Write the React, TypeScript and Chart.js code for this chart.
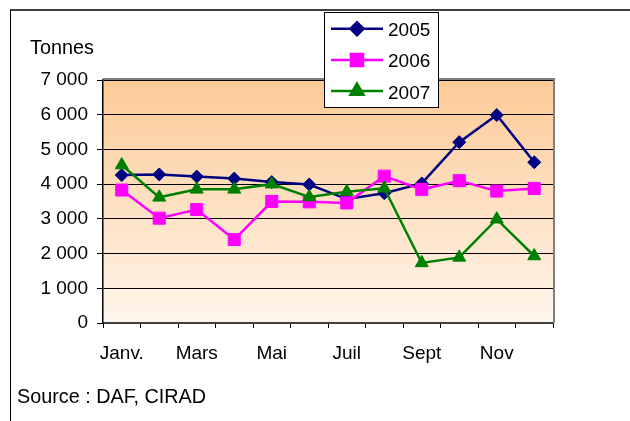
import { useEffect, useRef } from 'react';
import { Chart, registerables } from 'chart.js';
import { drawPoint } from 'chart.js/helpers';

Chart.register(...registerables);

const months = ['Janv.', 'Févr.', 'Mars', 'Avr.', 'Mai', 'Juin', 'Juil', 'Août', 'Sept', 'Oct', 'Nov', 'Déc.'];
const shownMonthEvery = 2;
const series2005 = [4260, 4280, 4220, 4160, 4060, 3990, 3570, 3740, 4020, 5210, 5990, 4630];
const series2006 = [3830, 3020, 3270, 2405, 3500, 3490, 3460, 4230, 3850, 4100, 3800, 3875];
const series2007 = [4550, 3620, 3850, 3850, 4000, 3630, 3780, 3880, 1730, 1890, 2990, 1930];
const seriesNames = ['2005', '2006', '2007'];
const yMin = 0;
const yMax = 7000;
const yStep = 1000;
const unitLabel = 'Tonnes';
const sourceLabel = 'Source : DAF, CIRAD';

const FONT = '"Liberation Sans", Arial, sans-serif';
const FONT_SIZE = 19;
const NOTE_FONT_SIZE = 19.8;

const styles = [
  { color: '#000080', pointStyle: 'rectRot', radius: 6.5 },
  { color: '#FF00FF', pointStyle: 'rect', radius: 8.5 },
  { color: '#008000', pointStyle: 'triangle', radius: 7.5 },
];

function fmt(v: number): string {
  if (v < 1000) return String(v);
  return `${Math.floor(v / 1000)} ${String(v % 1000).padStart(3, '0')}`;
}

const decorPlugin = {
  id: 'decor',
  beforeDraw(chart: any) {
    const { ctx, chartArea } = chart;
    const { left, right, top, bottom } = chartArea;
    ctx.save();
    const g = ctx.createLinearGradient(0, top, 0, bottom);
    g.addColorStop(0, '#FCCA96');
    g.addColorStop(1, '#FFF6EC');
    ctx.fillStyle = g;
    ctx.fillRect(left, top, right - left, bottom - top);
    // outer frame
    ctx.strokeStyle = '#404040';
    ctx.lineWidth = 2;
    ctx.beginPath();
    ctx.moveTo(10, 10);
    ctx.lineTo(640, 10);
    ctx.stroke();
    ctx.strokeStyle = '#000';
    ctx.lineWidth = 1;
    ctx.beginPath();
    ctx.moveTo(10.5, 10);
    ctx.lineTo(10.5, 430);
    ctx.stroke();
    ctx.restore();
  },
  afterDraw(chart: any) {
    const { ctx, chartArea } = chart;
    const { left, right, top, bottom } = chartArea;
    ctx.save();
    // plot border (top & right) in gray
    ctx.strokeStyle = '#808080';
    ctx.lineWidth = 2;
    ctx.beginPath();
    ctx.moveTo(left, top - 1);
    ctx.lineTo(right + 1, top - 1);
    ctx.lineTo(right + 1, bottom);
    ctx.stroke();

    ctx.fillStyle = '#000';
    ctx.font = `${NOTE_FONT_SIZE}px ${FONT}`;
    ctx.textBaseline = 'alphabetic';
    ctx.textAlign = 'left';
    ctx.fillText(unitLabel, 30, 54);
    ctx.fillText(sourceLabel, 17, 403);

    // legend
    ctx.font = `${FONT_SIZE}px ${FONT}`;
    const lx = 324.5, ly = 12.5, lw = 114, lh = 95;
    ctx.fillStyle = '#fff';
    ctx.fillRect(lx, ly, lw, lh);
    ctx.strokeStyle = '#000';
    ctx.lineWidth = 1;
    ctx.strokeRect(lx, ly, lw, lh);
    const rows = [28.7, 60, 91];
    const baselines = [35.5, 67, 98.5];
    chart.data.datasets.forEach((ds: any, i: number) => {
      const y = rows[i];
      const st = styles[i];
      ctx.strokeStyle = st.color;
      ctx.lineWidth = 2.5;
      ctx.beginPath();
      ctx.moveTo(331, y);
      ctx.lineTo(383, y);
      ctx.stroke();
      ctx.fillStyle = st.color;
      ctx.strokeStyle = st.color;
      drawPoint(ctx, { pointStyle: st.pointStyle, rotation: 0, radius: st.radius, borderWidth: 1 } as any, 357, y);
      ctx.fillStyle = '#000';
      ctx.fillText(ds.label, 388, baselines[i]);
    });
    ctx.restore();
  },
};

export default function App() {
  const ref = useRef<HTMLCanvasElement>(null);
  useEffect(() => {
    if (!ref.current) return;
    const allSeries = [series2005, series2006, series2007];
    const chart = new Chart(ref.current, {
      type: 'line',
      data: {
        labels: months,
        datasets: allSeries.map((data, i) => ({
          label: seriesNames[i],
          data,
          borderColor: styles[i].color,
          backgroundColor: styles[i].color,
          pointBackgroundColor: styles[i].color,
          pointBorderColor: styles[i].color,
          pointStyle: styles[i].pointStyle as any,
          pointRadius: styles[i].radius,
          pointHoverRadius: styles[i].radius,
          pointBorderWidth: 1,
          borderWidth: 2.5,
          tension: 0,
          fill: false,
          order: 3 - i,
        })),
      },
      options: {
        animation: false,
        responsive: false,
        maintainAspectRatio: false,
        layout: { padding: { left: 0, top: 80, right: 77, bottom: 0 } },
        plugins: {
          legend: { display: false },
          tooltip: { enabled: false },
          title: { display: false },
        },
        scales: {
          x: {
            type: 'category',
            offset: true,
            afterFit: (s: any) => { s.height = 98; },
            grid: {
              offset: true,
              drawOnChartArea: false,
              drawTicks: true,
              tickLength: 5,
              color: '#000',
              lineWidth: 1,
            },
            border: { display: true, color: '#404040', width: 2 },
            ticks: {
              autoSkip: false,
              maxRotation: 0,
              padding: 14,
              color: '#000',
              font: { family: FONT, size: FONT_SIZE },
              callback: (_v: any, idx: number) => (idx % shownMonthEvery === 0 ? months[idx] : ''),
            },
          },
          y: {
            min: yMin,
            max: yMax,
            afterFit: (s: any) => { s.width = 103; },
            grid: {
              drawOnChartArea: true,
              drawTicks: true,
              tickLength: 6,
              color: '#000',
              lineWidth: 1,
            },
            border: { display: true, color: '#000', width: 1.5 },
            ticks: {
              stepSize: yStep,
              padding: 9,
              color: '#000',
              font: { family: FONT, size: FONT_SIZE },
              callback: (v: any) => fmt(Number(v)),
            },
          },
        },
      },
      plugins: [decorPlugin],
    });
    return () => chart.destroy();
  }, []);
  return (
    <div style={{ position: 'fixed', left: 0, top: 0, width: 630, height: 421, background: '#fff' }}>
      <canvas ref={ref} width={630} height={421} style={{ display: 'block', width: 630, height: 421 }} />
    </div>
  );
}
